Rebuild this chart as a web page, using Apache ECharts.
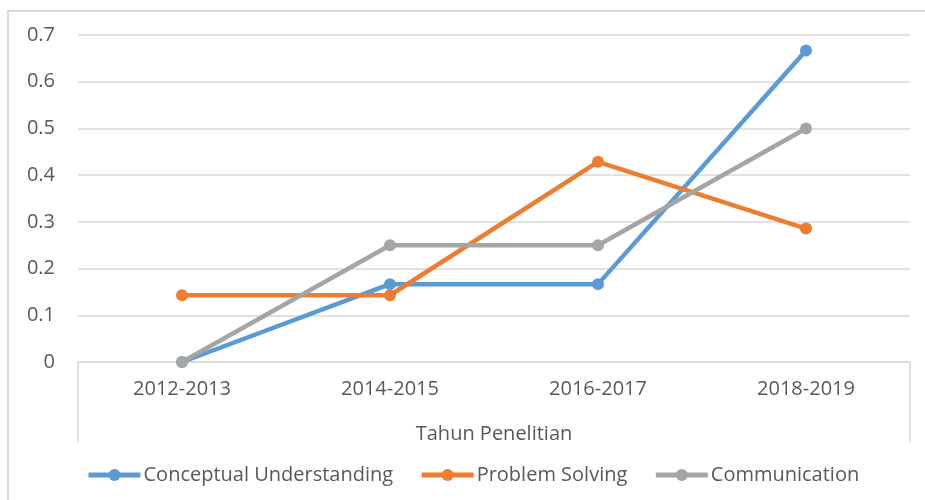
<!DOCTYPE html>
<html><head><meta charset="utf-8">
<script src="https://cdn.jsdelivr.net/npm/echarts@6/dist/echarts.min.js"></script>
<style>html,body{margin:0;padding:0;background:#fff}#c{width:925px;height:500px}</style>
</head><body><div id="c"></div>
<script>
const categories = ['2012-2013','2014-2015','2016-2017','2018-2019'];
const conceptual = [0, 0.1667, 0.1667, 0.6667];
const problemSolving = [0.1429, 0.1429, 0.4286, 0.2857];
const communication = [0, 0.25, 0.25, 0.5];
const seriesNames = ['Conceptual Understanding','Problem Solving','Communication'];
const colors = ['#5B9BD5','#ED7D31','#A5A5A5'];
const FONT = 'Open Sans';
const chart = echarts.init(document.getElementById('c'), null, {renderer:'canvas'});
const mk = (name, data, color) => ({
  name, type:'line', data, color,
  symbol:'circle', symbolSize:12,
  lineStyle:{width:4.5, color},
  itemStyle:{color},
  z: 3
});
chart.setOption({
  animation:false,
  textStyle:{fontFamily:FONT},
  grid:{left:78, right:15, top:35, bottom:138, containLabel:false},
  xAxis:{
    type:'category', data:categories, boundaryGap:true,
    name:'Tahun Penelitian', nameLocation:'middle', nameGap:62,
    nameTextStyle:{color:'#595959', fontSize:20, fontFamily:FONT},
    axisLine:{show:true, lineStyle:{color:'#d9d9d9', width:1.5}},
    axisTick:{show:false},
    axisLabel:{color:'#595959', fontSize:20, margin:17, fontFamily:FONT}
  },
  yAxis:{
    type:'value', min:0, max:0.7, interval:0.1,
    axisLine:{show:false}, axisTick:{show:false},
    axisLabel:{color:'#595959', fontSize:20, margin:23, fontFamily:FONT,
      formatter:v=> v===0 ? '0' : v.toFixed(1)},
    splitLine:{lineStyle:{color:'#d9d9d9', width:1.5}}
  },
  legend:{
    data:seriesNames, left:81, top:460, itemWidth:52, itemHeight:15, itemGap:26,
    textStyle:{color:'#595959', fontSize:20, fontFamily:FONT, padding:[0,0,0,-2]},
    lineStyle:{width:5}
  },
  graphic:[
    {type:'rect', shape:{x:8, y:11, width:960, height:560}, style:{fill:null, stroke:'#d9d9d9', lineWidth:2}, silent:true},
    {type:'line', shape:{x1:78, y1:362, x2:78, y2:442}, style:{stroke:'#d9d9d9', lineWidth:1.5}, silent:true},
    {type:'line', shape:{x1:910, y1:362, x2:910, y2:442}, style:{stroke:'#d9d9d9', lineWidth:1.5}, silent:true}
  ],
  series:[
    mk(seriesNames[0], conceptual, colors[0]),
    mk(seriesNames[1], problemSolving, colors[1]),
    mk(seriesNames[2], communication, colors[2])
  ]
});
</script></body></html>
